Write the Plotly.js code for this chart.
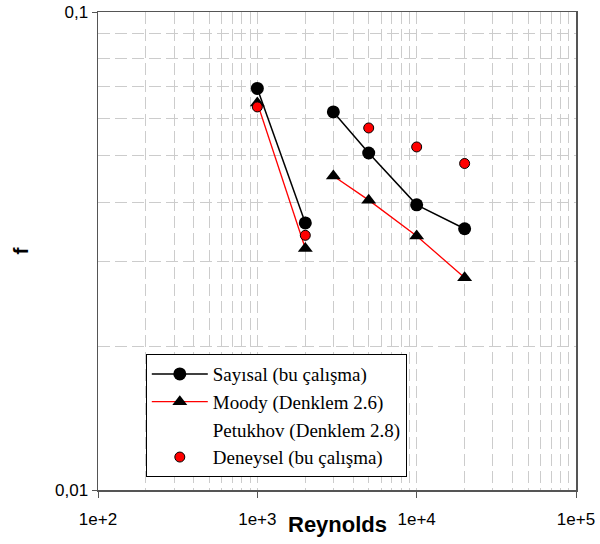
<!DOCTYPE html>
<html>
<head>
<meta charset="utf-8">
<script src="https://cdn.plot.ly/plotly-3.0.1.min.js"></script>
<style>html,body{margin:0;padding:0;background:#fff;}#chart{width:600px;height:544px;}</style>
</head>
<body>
<div id="chart"></div>
<script>
// Reynolds numbers (null = line break between laminar and turbulent groups)
const reLines = [1000, 2000, null, 3000, 5000, 10000, 20000];
const sayisal = [0.0692, 0.0362, null, 0.0618, 0.0507, 0.0395, 0.0352];
const moody   = [0.0645, 0.0320, null, 0.0454, 0.0404, 0.0340, 0.0278];
const rePetukhov = [null];
const petukhov   = [null];
const reDeneysel = [1000, 2000, 5000, 10000, 20000];
const deneysel   = [0.0633, 0.0341, 0.0572, 0.0522, 0.0482];
const xTickVals = [100, 1000, 10000, 100000];
const xTickText = ['1e+2', '1e+3', '1e+4', '1e+5'];
const yTickVals = [0.01, 0.1];
const yTickText = ['0,01', '0,1'];
const names = ['Sayısal (bu çalışma)', 'Moody (Denklem 2.6)', 'Petukhov (Denklem 2.8)', 'Deneysel (bu çalışma)'];

const traces = [
  {x: reLines, y: sayisal, name: names[0], mode: 'lines+markers',
   line: {color: '#000', width: 1.5},
   marker: {symbol: 'circle', size: 13, color: '#000'}},
  {x: reLines, y: moody, name: names[1], mode: 'lines+markers',
   line: {color: '#ff0000', width: 1.3},
   marker: {symbol: 'triangle-up', size: 13, color: '#000'}},
  {x: rePetukhov, y: petukhov, name: names[2], mode: 'lines',
   line: {color: 'rgba(0,0,0,0)', width: 1}},
  {x: reDeneysel, y: deneysel, name: names[3], mode: 'markers',
   marker: {symbol: 'circle', size: 10, color: '#ff0000', line: {color: '#000', width: 1}}}
];

const dash = '12px,5px';
const gridC = '#cccccc';

const layout = {
  width: 600, height: 544,
  margin: {l: 98, r: 24, t: 12, b: 54},
  paper_bgcolor: '#fff', plot_bgcolor: '#fff',
  font: {family: 'Liberation Sans, Arial, sans-serif', color: '#000', size: 17},
  showlegend: true,
  legend: {
    x: 0.1, y: 0.027, xanchor: 'left', yanchor: 'bottom',
    bgcolor: '#fff', bordercolor: '#000', borderwidth: 1,
    itemwidth: 56,
    font: {family: "'Liberation Serif', 'Times New Roman', serif", size: 19, color: '#000'},
    traceorder: 'normal'
  },
  xaxis: {
    type: 'log', range: [2, 5],
    tickvals: xTickVals, ticktext: xTickText,
    ticks: 'outside', ticklen: 6, tickcolor: '#555',
    ticklabelstandoff: 7,
    showline: true, linecolor: '#555', linewidth: 1.5, mirror: true,
    zeroline: false,
    showgrid: true, gridcolor: gridC, gridwidth: 1, griddash: dash,
    minor: {dtick: 'D1', showgrid: true, gridcolor: gridC, gridwidth: 1, griddash: dash, ticks: ''}
  },
  yaxis: {
    type: 'log', range: [-2, -1],
    tickvals: yTickVals, ticktext: yTickText,
    ticks: 'outside', ticklen: 5, tickcolor: '#555',
    showline: true, linecolor: '#555', linewidth: 1.5, mirror: true,
    zeroline: false,
    showgrid: true, gridcolor: gridC, gridwidth: 1, griddash: dash,
    title: {text: 'f', font: {size: 21, family: 'Liberation Sans, Arial, sans-serif', weight: 'bold'}, standoff: 20},
    minor: {dtick: 'D1', showgrid: true, gridcolor: gridC, gridwidth: 1, griddash: dash, ticks: ''}
  },
  annotations: [{
    text: '<b>Reynolds</b>', xref: 'paper', yref: 'paper', x: 0.5, y: -0.072,
    xanchor: 'center', yanchor: 'middle', showarrow: false,
    font: {size: 22, family: 'Liberation Sans, Arial, sans-serif', color: '#000'}
  }]
};

Plotly.newPlot('chart', traces, layout, {displayModeBar: false, staticPlot: true});
</script>
</body>
</html>
